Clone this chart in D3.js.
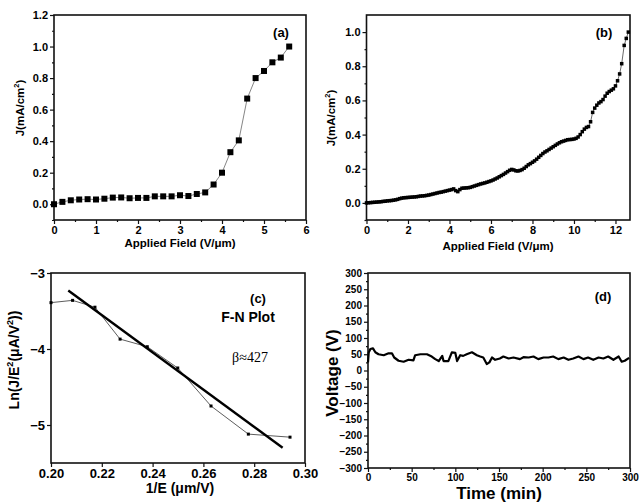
<!DOCTYPE html>
<html>
<head>
<meta charset="utf-8">
<script src="https://cdn.jsdelivr.net/npm/d3@7"></script>
<style>
	body { margin: 0; background: #fff; }
	svg text { font-family: 'Liberation Sans', Arial, sans-serif; fill: #000; }
</style>
</head>
<body>
<script>
// (a) J vs applied field
const fieldA = [0, 0.2, 0.4, 0.6, 0.8, 1.0, 1.2, 1.4, 1.6, 1.8, 2.0, 2.2, 2.4, 2.6, 2.8, 3.0, 3.2, 3.4, 3.6, 3.8, 4.0, 4.2, 4.4, 4.6, 4.8, 5.0, 5.2, 5.4, 5.6];
const currentA = [0.0, 0.015, 0.025, 0.03, 0.032, 0.03, 0.035, 0.042, 0.043, 0.038, 0.04, 0.04, 0.05, 0.05, 0.05, 0.057, 0.052, 0.065, 0.075, 0.125, 0.2, 0.33, 0.405, 0.67, 0.8, 0.845, 0.9, 0.93, 1.0];

// (b) J vs applied field, dense sweep
const fieldB = [
	0, 0.1, 0.2, 0.3, 0.4, 0.5, 0.6, 0.7, 0.8, 0.9, 1.0, 1.1, 1.2, 1.3, 1.4, 1.5, 1.6, 1.7, 1.8, 1.9,
	2.0, 2.1, 2.2, 2.3, 2.4, 2.5, 2.6, 2.7, 2.8, 2.9, 3.0, 3.1, 3.2, 3.3, 3.4, 3.5, 3.6, 3.7, 3.8, 3.9,
	4.0, 4.1, 4.2, 4.3, 4.4, 4.5, 4.6, 4.7, 4.8, 4.9, 5.0, 5.1, 5.2, 5.3, 5.4, 5.5, 5.6, 5.7, 5.8, 5.9,
	6.0, 6.1, 6.2, 6.3, 6.4, 6.5, 6.6, 6.7, 6.8, 6.9, 7.0, 7.1, 7.2, 7.3, 7.4, 7.5, 7.6, 7.7, 7.8, 7.9,
	8.0, 8.1, 8.2, 8.3, 8.4, 8.5, 8.6, 8.7, 8.8, 8.9, 9.0, 9.1, 9.2, 9.3, 9.4, 9.5, 9.6, 9.7, 9.8, 9.9,
	10.0, 10.1, 10.2, 10.3, 10.4, 10.5, 10.6, 10.7, 10.8, 10.9, 11.0, 11.1, 11.2, 11.3, 11.4, 11.5, 11.6, 11.7, 11.8, 11.9,
	12.0, 12.1, 12.2, 12.3, 12.42, 12.52, 12.62
];
const currentB = [
	0.0, 0.001, 0.002, 0.003, 0.004, 0.005, 0.006, 0.007, 0.009, 0.01, 0.012, 0.013, 0.014, 0.016, 0.018, 0.021, 0.025, 0.028, 0.03, 0.031,
	0.032, 0.033, 0.034, 0.035, 0.036, 0.038, 0.04, 0.041, 0.042, 0.044, 0.046, 0.049, 0.052, 0.055, 0.058, 0.061, 0.063, 0.066, 0.069, 0.072,
	0.075, 0.078, 0.082, 0.072, 0.066, 0.078, 0.086, 0.087, 0.088, 0.089, 0.091, 0.095, 0.099, 0.103, 0.107, 0.111, 0.114, 0.117, 0.121, 0.125,
	0.129, 0.134, 0.14, 0.146, 0.153, 0.16, 0.167, 0.175, 0.183, 0.191, 0.196, 0.193, 0.188, 0.187, 0.19, 0.195, 0.203, 0.213, 0.223, 0.23,
	0.238, 0.246, 0.256, 0.267, 0.278, 0.289, 0.298, 0.305, 0.313, 0.321, 0.329, 0.337, 0.345, 0.352, 0.358, 0.362, 0.366, 0.37, 0.371, 0.372,
	0.374, 0.378, 0.386, 0.4, 0.417, 0.432, 0.442, 0.447, 0.475, 0.53, 0.555, 0.572, 0.585, 0.593, 0.605, 0.625, 0.642, 0.652, 0.66, 0.668,
	0.685, 0.715, 0.755, 0.815, 0.922, 0.963, 1.0
];

// (c) F-N plot and its linear fit
const invE = [0.2, 0.2085, 0.2173, 0.2272, 0.2379, 0.2499, 0.263, 0.2777, 0.2941];
const lnJE2 = [-3.39, -3.36, -3.45, -3.87, -3.97, -4.25, -4.75, -5.12, -5.16];
const fitX = [0.2068, 0.2912];
const fitY = [-3.23, -5.3];

// (d) voltage stability
const timeD = [0, 0.8, 2.7, 5.7, 8.4, 12, 18, 23.6, 27.4, 30, 35, 40.8, 46.5, 52, 54, 60, 67.5, 73, 77, 81, 85, 86.5, 92, 96, 100, 102, 105.6, 109, 113, 119, 124.7, 128.5, 132, 136, 139, 142, 145.6, 151, 155, 161, 166.6, 174, 178, 184, 189.5, 195, 201, 206.6, 212, 218, 224, 229.5, 235, 241, 246.7, 252, 258, 264, 269.5, 275, 281, 287, 290.5, 294, 299];
const voltD = [25, 55, 66, 68, 56, 50, 47, 53, 53, 40, 30, 27, 33, 31, 47, 50, 50, 43, 35, 29, 45, 29, 29, 56, 54, 29, 47, 45, 50, 56, 47, 43, 40, 20, 25, 40, 33, 37, 43, 37, 40, 35, 41, 40, 43, 35, 40, 40, 43, 35, 40, 33, 37, 43, 35, 40, 33, 40, 37, 43, 33, 43, 27, 30, 39];

const W = 640;
const H = 503;

const svg = d3
	.select('body')
	.append('svg')
	.attr('width', W)
	.attr('height', H);

function range(a, b, step) {
	const out = [];
	for (let v = a; v <= b + step * 1e-6; v += step) out.push(+v.toFixed(6));
	return out;
}

// draws frame + axes for one panel, returns scales
function panel(opt) {
	const x = d3.scaleLinear().domain(opt.xDomain).range([opt.left, opt.right]);
	const y = d3.scaleLinear().domain(opt.yDomain).range([opt.bottom, opt.top]);
	const g = svg.append('g');

	const xMajor = d3
		.axisBottom(x)
		.tickValues(opt.xTicks)
		.tickFormat(opt.xFormat)
		.tickSize(opt.tick)
		.tickPadding(2);
	const yMajor = d3
		.axisLeft(y)
		.tickValues(opt.yTicks)
		.tickFormat(opt.yFormat)
		.tickSize(opt.tick)
		.tickPadding(2);

	const gx = g
		.append('g')
		.attr('transform', `translate(0,${opt.bottom})`)
		.call(xMajor);
	const gy = g
		.append('g')
		.attr('transform', `translate(${opt.left},0)`)
		.call(yMajor);

	if (opt.xMinor) {
		g.append('g')
			.attr('transform', `translate(0,${opt.bottom})`)
			.call(d3.axisBottom(x).tickValues(opt.xMinor).tickFormat('').tickSize(opt.tick / 2));
	}
	if (opt.yMinor) {
		g.append('g')
			.attr('transform', `translate(${opt.left},0)`)
			.call(d3.axisLeft(y).tickValues(opt.yMinor).tickFormat('').tickSize(opt.tick / 2));
	}

	g.selectAll('.domain').remove();
	g.selectAll('.tick line').attr('stroke', '#111').attr('stroke-width', 1.2);
	[gx, gy].forEach(a =>
		a
			.selectAll('text')
			.attr('font-size', opt.tickFont)
			.attr('font-weight', 'bold')
			.attr('fill', '#111')
	);

	g.append('rect')
		.attr('x', opt.left)
		.attr('y', opt.top)
		.attr('width', opt.right - opt.left)
		.attr('height', opt.bottom - opt.top)
		.attr('fill', 'none')
		.attr('stroke', '#111')
		.attr('stroke-width', 1.6);

	return { x, y, g };
}

function squares(p, xs, ys, size, lineColor, lineWidth) {
	const pts = xs.map((d, i) => [d, ys[i]]);
	const line = d3
		.line()
		.x(d => p.x(d[0]))
		.y(d => p.y(d[1]));
	p.g.append('path')
		.attr('d', line(pts))
		.attr('fill', 'none')
		.attr('stroke', lineColor)
		.attr('stroke-width', lineWidth);
	p.g.selectAll(null)
		.data(pts)
		.enter()
		.append('rect')
		.attr('x', d => p.x(d[0]) - size / 2)
		.attr('y', d => p.y(d[1]) - size / 2)
		.attr('width', size)
		.attr('height', size)
		.attr('fill', '#000');
}

function label(txt, x, y, size, rotate, weight) {
	const t = svg
		.append('text')
		.attr('text-anchor', 'middle')
		.attr('font-size', size)
		.attr('font-weight', weight || 'bold')
		.attr('transform', `translate(${x},${y})${rotate ? ' rotate(-90)' : ''}`);
	return t.text(txt);
}

function supLabel(parts, x, y, size, rotate) {
	const t = svg
		.append('text')
		.attr('text-anchor', 'middle')
		.attr('font-size', size)
		.attr('font-weight', 'bold')
		.attr('transform', `translate(${x},${y})${rotate ? ' rotate(-90)' : ''}`);
	parts.forEach(p => {
		const s = t.append('tspan').text(p[0]);
		if (p[1]) s.attr('font-size', size * 0.65).attr('dy', -size * 0.4);
		else if (p[2]) s.attr('dy', size * 0.4);
	});
	return t;
}

const f1 = d3.format('.1f');

// ---- (a)
const pa = panel({
	left: 54, right: 306, top: 15, bottom: 220,
	xDomain: [0, 6], yDomain: [-0.1, 1.2],
	xTicks: range(0, 6, 1), xMinor: range(0.5, 5.5, 1), xFormat: d3.format('d'),
	yTicks: range(0, 1.2, 0.2), yMinor: [-0.1].concat(range(0.1, 1.1, 0.2)), yFormat: f1,
	tick: 4, tickFont: 11
});
squares(pa, fieldA, currentA, 6, '#666', 0.8);
label('(a)', 281, 37, 13);
label('Applied Field (V/\u03bcm)', 180, 247, 11.5);
supLabel([['J(mA/cm'], ['2', true], [')', false, true]], 24, 108, 11.5, true);

// ---- (b)
const pb = panel({
	left: 366.5, right: 630, top: 15, bottom: 220,
	xDomain: [0, 12.7], yDomain: [-0.1, 1.1],
	xTicks: range(0, 12, 2), xMinor: range(1, 11, 2), xFormat: d3.format('d'),
	yTicks: range(0, 1.0, 0.2), yMinor: [-0.1].concat(range(0.1, 0.9, 0.2)), yFormat: f1,
	tick: 4, tickFont: 11
});
squares(pb, fieldB, currentB, 3.5, '#444', 0.8);
label('(b)', 604, 37, 13);
label('Applied Field (V/\u03bcm)', 498, 250, 11.5);
supLabel([['J(mA/cm'], ['2', true], [')', false, true]], 335, 118, 11.5, true);

// ---- (c)
const pc = panel({
	left: 51, right: 305, top: 273, bottom: 463,
	xDomain: [0.2, 0.3], yDomain: [-5.5, -3],
	xTicks: range(0.2, 0.3, 0.02), xFormat: d3.format('.2f'),
	yTicks: [-3, -4, -5], yFormat: d3.format('d'),
	tick: 4, tickFont: 13
});
squares(pc, invE, lnJE2, 3, '#333', 0.8);
pc.g.append('line')
	.attr('x1', pc.x(fitX[0]))
	.attr('y1', pc.y(fitY[0]))
	.attr('x2', pc.x(fitX[1]))
	.attr('y2', pc.y(fitY[1]))
	.attr('stroke', '#000')
	.attr('stroke-width', 2.4);
label('(c)', 258, 303, 13);
label('F-N Plot', 248, 322, 14);
label('\u03b2\u2248427', 250, 362, 14, false, 'normal').style('font-family', "'Liberation Serif', 'DejaVu Serif', serif");
label('1/E (\u03bcm/V)', 180, 493, 14);
supLabel([['Ln(J/E'], ['2', true], ['(\u03bcA/V', false, true], ['2', true], ['))', false, true]], 19, 360, 14, true);

// ---- (d)
const pd = panel({
	left: 368, right: 630, top: 273, bottom: 468,
	xDomain: [0, 300], yDomain: [-300, 300],
	xTicks: range(0, 300, 50), xMinor: range(25, 275, 50), xFormat: d3.format('d'),
	yTicks: range(-300, 300, 50), yMinor: range(-275, 275, 50), yFormat: d3.format('d'),
	tick: 4, tickFont: 10
});
pd.g.append('path')
	.attr('d', d3.line().x((d, i) => pd.x(timeD[i])).y(d => pd.y(d))(voltD))
	.attr('fill', 'none')
	.attr('stroke', '#000')
	.attr('stroke-width', 2.2)
	.attr('stroke-linejoin', 'round');
label('(d)', 603, 301, 13);
label('Time (min)', 499, 499, 17);
label('Voltage (V)', 338, 373, 17, true);
</script>
</body>
</html>
